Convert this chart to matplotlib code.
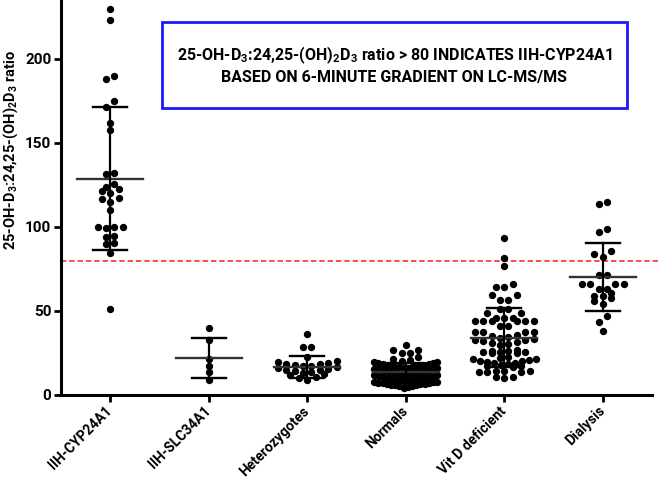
import matplotlib
matplotlib.use("Agg")
import matplotlib.pyplot as plt
from matplotlib.patches import Rectangle
import numpy as np

plt.rcParams['font.family'] = ['Roboto', 'DejaVu Sans']
plt.rcParams['font.weight'] = 'bold'
plt.rcParams['mathtext.fontset'] = 'custom'
plt.rcParams['mathtext.rm'] = 'Roboto:bold'
plt.rcParams['mathtext.it'] = 'Roboto:bold:italic'
plt.rcParams['mathtext.bf'] = 'Roboto:bold'
plt.rcParams['lines.scale_dashes'] = False

# groups on the x axis
groups = ['IIH-CYP24A1', 'IIH-SLC34A1', 'Heterozygotes', 'Normals',
          'Vit D deficient', 'Dialysis']

# ratio values
cyp24a1 = [229.5, 223.0, 190.0, 188.0, 175.0, 171.5, 161.7, 157.7, 132.3, 131.5,
           125.4, 124.0, 122.4, 121.2, 120.0, 117.0, 116.8, 115.0, 110.0, 100.2,
           99.8, 99.6, 100.0, 94.4, 94.0, 90.2, 89.8, 84.7, 51.2]
slc34a1 = [40.1, 32.7, 21.2, 17.4, 13.5, 8.9]
hetero = [36.1, 28.8, 28.8, 22.8, 20.0, 19.5, 19.2, 18.6, 18.2, 17.8, 17.5, 17.0,
          16.4, 16.0, 15.5, 15.0, 14.6, 14.0, 13.6, 13.0, 12.4, 11.8, 11.0, 10.0, 9.0]
normals = [4.4, 4.8, 5.2, 5.5, 5.8, 6.0, 6.2, 6.4, 6.6, 6.8, 7.0, 7.2, 7.4, 7.6, 7.8, 8.0,
           8.3, 8.5, 8.7, 8.9, 9.1, 9.3, 9.5, 9.7, 9.9, 10.1, 10.3, 10.5, 10.7, 10.9,
           11.2, 11.5, 11.8, 12.0,
           12.2, 12.4, 12.6, 12.8, 13.0, 13.2, 13.4, 13.6, 13.8, 14.0, 14.2, 14.5,
           14.8, 15.0, 15.2, 15.4, 15.6, 15.9,
           16.1, 16.3, 16.5, 16.7, 16.9, 17.1, 17.3, 17.5, 17.8, 18.0, 18.3, 18.6,
           18.9, 19.2, 19.5, 19.8,
           20.3, 20.8, 21.4, 22.4, 25.0, 25.0, 26.8, 26.8, 29.8]
vitd = [93.2, 81.3, 77.0, 66.0, 64.1, 64.1, 59.5, 59.5, 56.5, 56.5, 51.0, 51.0,
        49.0, 49.0, 46.0, 46.0, 46.0, 44.0, 44.0, 44.0, 44.0, 44.0, 44.0, 41.3, 41.3,
        37.7, 37.7, 37.7, 37.7,
        35.5, 35.0, 34.5, 34.0, 33.5, 33.0, 32.5, 32.0, 31.5, 31.0, 30.5, 30.0,
        26.5, 26.2, 26.0, 25.8, 25.6, 25.4, 25.2, 25.0,
        22.4, 22.0, 21.6, 21.2, 20.8, 20.4, 20.0, 19.6, 19.2, 18.8, 18.4, 18.0,
        17.5, 17.0, 16.5,
        14.5, 14.2, 14.0, 13.8, 13.6, 13.5,
        11.0, 10.7, 10.4]
dialysis = [114.7, 113.7, 98.6, 97.2, 85.7, 83.9, 82.0, 71.4, 71.4, 66.0, 66.0, 66.0,
            66.0, 62.9, 62.9, 60.9, 59.1, 59.1, 57.9, 55.9, 54.2, 47.2, 43.6, 38.1]
data = [cyp24a1, slc34a1, hetero, normals, vitd, dialysis]

# mean and SD bars
means = [128.7, 22.2, 16.8, 13.5, 34.1, 70.0]
sds = [42.6, 11.9, 6.4, 5.5, 17.4, 20.2]
cutoff = 80

box_text = ('25-OH-D$_3$:24,25-(OH)$_2$D$_3$ ratio > 80 INDICATES IIH-CYP24A1\n'
            'BASED ON 6-MINUTE GRADIENT ON LC-MS/MS')


# prism-like spreading: close values share a row, lowest in the middle
def spread(vals, h=3.8, step=0.086, half=0.32):
    vals = np.sort(np.asarray(vals, float))
    xs = np.zeros(len(vals))
    i = 0
    while i < len(vals):
        j = i
        while j < len(vals) and vals[j] < vals[i] + h:
            j += 1
        n = j - i
        sp = step if n == 1 else min(step, 2 * half / (n - 1))
        offs = (np.arange(n) - (n - 1) / 2) * sp
        order = np.argsort(np.abs(offs), kind='stable')
        for k in range(n):
            xs[i + k] = offs[order[k]]
        i = j
    return vals, xs


fig = plt.figure(figsize=(6.61, 4.82), dpi=100)
ax = fig.add_axes([61 / 661, 87 / 482, 591 / 661, 395 / 482])

for i, vals in enumerate(data):
    y, dx = spread(vals)
    ax.scatter(i + dx, y, s=28, color='black', linewidths=0, zorder=2)
    m, s = means[i], sds[i]
    ax.plot([i - 0.335, i + 0.335], [m, m], color='#333333', lw=1.7, zorder=3)
    ax.plot([i, i], [m - s, m + s], color='black', lw=1.6, zorder=3)
    for c in (m - s, m + s):
        ax.plot([i - 0.175, i + 0.175], [c, c], color='black', lw=1.7, zorder=3)

ax.axhline(cutoff, xmin=0, xmax=1.02, color='#ff2a2a', lw=1.2, dashes=(3.8, 2.2),
           clip_on=False, zorder=1)

ax.set_xlim(-0.5, 5.5)
ax.set_ylim(0, 235)
ax.set_yticks([0, 50, 100, 150, 200])
ax.set_xticks(range(len(groups)))
ax.set_xticklabels(groups, rotation=45, ha='right', va='center',
                   rotation_mode='anchor')
for sp in ('top', 'right'):
    ax.spines[sp].set_visible(False)
for sp in ('left', 'bottom'):
    ax.spines[sp].set_linewidth(2.2)
ax.tick_params(width=2, length=5, pad=2)
ax.tick_params(axis='y', labelsize=11)
ax.tick_params(axis='x', labelsize=10, pad=5)
for lab in ax.get_xticklabels() + ax.get_yticklabels():
    lab.set_fontweight('bold')

ax.set_ylabel(r'25-OH-D$_3$:24,25-(OH)$_2$D$_3$ ratio', fontsize=10.5,
              fontweight='bold')
ax.yaxis.set_label_coords(-0.07, 0.62)

fig.patches.append(Rectangle((162 / 661, (482 - 108) / 482), 465 / 661, 86 / 482,
                             transform=fig.transFigure, fill=False,
                             edgecolor='#1a1aff', lw=2))
fig.text(394.5 / 661, (482 - 64.5) / 482, box_text, ha='center', va='center',
         fontsize=11.5, fontweight='bold', linespacing=1.35)

fig.savefig('out.png', dpi=100)
